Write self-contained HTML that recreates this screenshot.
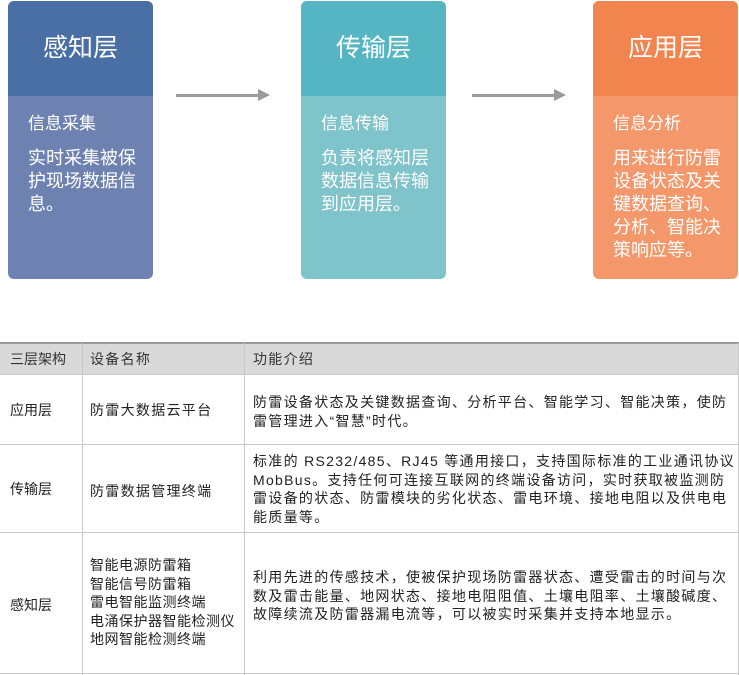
<!DOCTYPE html>
<html><head><meta charset="utf-8"><style>
body{margin:0;width:739px;height:675px;background:#fff;position:relative;overflow:hidden;font-family:"Liberation Sans","Noto Sans CJK SC",sans-serif;}
.box{position:absolute;top:1px;width:145px;height:278px;border-radius:6px;overflow:hidden;color:#fff}
.hd{height:95px;text-align:center;font-size:25px;line-height:95px}
.sub{position:absolute;left:20px;top:108px;font-size:17px}
.txt{position:absolute;left:20px;top:146px;width:125px;font-size:18px;line-height:23px}
.arr{position:absolute;top:94px;height:3px;background:#9a9a9a}
.arr:after{content:"";position:absolute;right:-10px;top:-5px;border-left:12px solid #9a9a9a;border-top:6.5px solid transparent;border-bottom:6.5px solid transparent}
.c{position:absolute;font-size:14px;color:#222;line-height:18.5px;letter-spacing:1.3px}
.h{position:absolute;background:#c8c8c8;height:1px;left:0;width:739px}
.v{position:absolute;background:#c8c8c8;width:1px;top:343px;height:332px}
</style></head><body>
<div class="box" style="left:8px;background:#6e82b2"><div class="hd" style="background:#4a6fa5">感知层</div><div class="sub">信息采集</div><div class="txt">实时采集被保护现场数据信息。</div></div>
<div class="box" style="left:301px;background:#7fc3cb"><div class="hd" style="background:#56b5c2">传输层</div><div class="sub">信息传输</div><div class="txt">负责将感知层数据信息传输到应用层。</div></div>
<div class="box" style="left:593px;background:#f4976a"><div class="hd" style="background:#f2854f">应用层</div><div class="sub">信息分析</div><div class="txt">用来进行防雷设备状态及关键数据查询、分析、智能决策响应等。</div></div>
<div class="arr" style="left:176px;width:84px"></div>
<div class="arr" style="left:472px;width:84px"></div>

<div style="position:absolute;left:0;top:343px;width:739px;height:31px;background:#d9d9d9"></div>
<div class="h" style="top:342px;background:#999;height:2px"></div>
<div class="h" style="top:374px"></div>
<div class="h" style="top:444px"></div>
<div class="h" style="top:532px"></div>
<div class="h" style="top:673px"></div>
<div class="v" style="left:82px"></div>
<div class="v" style="left:244px"></div>
<div class="v" style="left:738px"></div>

<div class="c" style="left:10px;top:350px;color:#333;letter-spacing:0">三层架构</div>
<div class="c" style="left:90px;top:350px;color:#333">设备名称</div>
<div class="c" style="left:253px;top:350px;color:#333">功能介绍</div>

<div class="c" style="left:10px;top:401px;letter-spacing:0">应用层</div>
<div class="c" style="left:90px;top:401px">防雷大数据云平台</div>
<div class="c" style="left:253px;top:393px;width:484px">防雷设备状态及关键数据查询、分析平台、智能学习、智能决策，使防雷管理进入“智慧”时代。</div>

<div class="c" style="left:10px;top:480px;letter-spacing:0">传输层</div>
<div class="c" style="left:90px;top:482px">防雷数据管理终端</div>
<div class="c" style="left:253px;top:452px;width:486px">标准的 RS232/485、RJ45 等通用接口，支持国际标准的工业通讯协议 MobBus。支持任何可连接互联网的终端设备访问，实时获取被监测防雷设备的状态、防雷模块的劣化状态、雷电环境、接地电阻以及供电电能质量等。</div>

<div class="c" style="left:10px;top:596px;letter-spacing:0">感知层</div>
<div class="c" style="left:90px;top:556px;letter-spacing:0.5px">智能电源防雷箱<br>智能信号防雷箱<br>雷电智能监测终端<br>电涌保护器智能检测仪<br>地网智能检测终端</div>
<div class="c" style="left:253px;top:568px;width:484px">利用先进的传感技术，使被保护现场防雷器状态、遭受雷击的时间与次数及雷击能量、地网状态、接地电阻阻值、土壤电阻率、土壤酸碱度、故障续流及防雷器漏电流等，可以被实时采集并支持本地显示。</div>
</body></html>
